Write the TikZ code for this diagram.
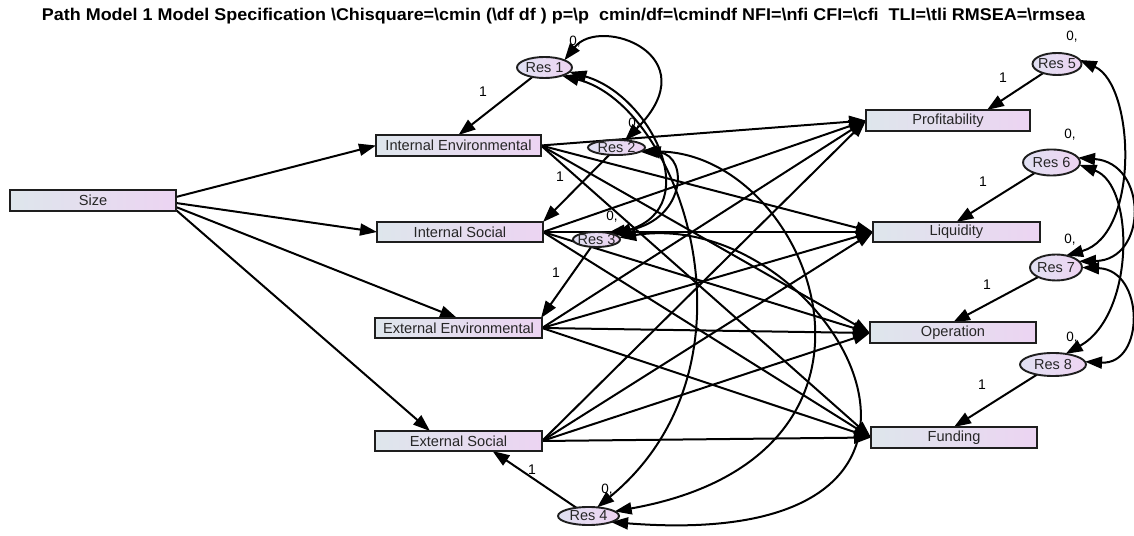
\documentclass[tikz,border=0pt]{standalone}
\usepackage{fontspec}
\setmainfont{Liberation Sans}
\usepackage{graphicx}
\usetikzlibrary{arrows.meta,backgrounds,shapes.geometric}
\definecolor{boxL}{RGB}{222,230,236}
\definecolor{boxR}{RGB}{236,212,242}
\definecolor{ellL}{RGB}{224,224,242}
\definecolor{ellR}{RGB}{238,212,242}
\definecolor{edgec}{RGB}{30,30,30}
\tikzset{
  var/.style={draw=edgec, line width=2pt, left color=boxL, right color=boxR,
    minimum height=20pt, inner sep=0pt, outer sep=0pt,
    font=\fontsize{14.6}{16}\selectfont, text=black!85},
  res/.style={ellipse, draw=edgec, line width=1.9pt, left color=ellL, right color=ellR,
    inner sep=0pt, outer sep=0pt},
  restext/.style={font=\fontsize{14.5}{16}\selectfont, text=black!85, inner sep=0pt},
  reg/.style={line width=2pt, -{Triangle[length=17pt,width=12pt]}},
  cov/.style={line width=2pt, {Triangle[length=17pt,width=12pt]}-{Triangle[length=17pt,width=12pt]}},
  onelab/.style={font=\fontsize{14}{16}\selectfont, inner sep=0pt},
  zerolab/.style={font=\fontsize{13.5}{15}\selectfont, inner sep=0pt}
}
\begin{document}
\begin{tikzpicture}[x=1pt,y=1pt]
\useasboundingbox (0,0) rectangle (1134,535);
% title
\node[anchor=base, inner sep=0pt] (title) at (563.5,514)
 {\resizebox{1043pt}{\height}{\fontsize{17}{20}\selectfont\bfseries Path Model 1 Model Specification \textbackslash Chisquare=\textbackslash cmin (\textbackslash df df ) p=\textbackslash p\ \ cmin/df=\textbackslash cmindf NFI=\textbackslash nfi CFI=\textbackslash cfi\ \ TLI=\textbackslash tli RMSEA=\textbackslash rmsea}};
% observed variables
\node[var, minimum width=166pt, minimum height=21pt] (Size) at (93,334.5) {Size};
\node[var, minimum width=165pt, minimum height=21pt] (IE) at (458.5,389.5) {Internal Environmental};
\node[var, minimum width=166pt] (IS) at (460,303) {Internal Social};
\node[var, minimum width=167pt] (EE) at (458.5,207) {External Environmental};
\node[var, minimum width=167pt] (ES) at (458.5,94) {External Social};
\node[var, minimum width=164pt, minimum height=21pt] (Prof) at (948,414.5) {Profitability};
\node[var, minimum width=167pt] (Liq) at (956.5,303) {Liquidity};
\node[var, minimum width=166pt, minimum height=21pt] (Op) at (953,202) {Operation};
\node[var, minimum width=166pt, minimum height=21pt] (Fund) at (954,97.5) {Funding};
% residuals
\node[res, minimum width=55pt, minimum height=21pt, label={[restext]center:Res 1}] (R1) at (544.5,467.5) {};
\node[res, minimum width=57pt, minimum height=15pt, label={[restext]center:Res 2}] (R2) at (616.5,387.5) {};
\node[res, minimum width=47pt, minimum height=15pt, label={[restext]center:Res 3}] (R3) at (596.5,295.5) {};
\node[res, minimum width=61pt, minimum height=18pt, label={[restext]center:Res 4}] (R4) at (588.5,19) {};
\node[res, minimum width=49pt, minimum height=22pt, label={[restext]center:Res 5}] (R5) at (1057,471) {};
\node[res, minimum width=57pt, minimum height=26pt, label={[restext]center:Res 6}] (R6) at (1051.5,372.5) {};
\node[res, minimum width=52pt, minimum height=26pt, label={[restext]center:Res 7}] (R7) at (1056,267.5) {};
\node[res, minimum width=66pt, minimum height=23pt, label={[restext]center:Res 8}] (R8) at (1053,170.5) {};
% labels
\node[zerolab] (z1) at (575,493) {0,};
\node[zerolab] (z2) at (634,411) {0,};
\node[zerolab] (z3) at (612,318) {0,};
\node[zerolab] (z4) at (607,45) {0,};
\node[zerolab] (z5) at (1072,498) {0,};
\node[zerolab] (z6) at (1070,400) {0,};
\node[zerolab] (z7) at (1070,295) {0,};
\node[zerolab] (z8) at (1072,197) {0,};
\node[onelab] (o1) at (483,443) {1};
\node[onelab] (o2) at (560,358) {1};
\node[onelab] (o3) at (556,262) {1};
\node[onelab] (o4) at (532,65) {1};
\node[onelab] (o5) at (1003,457) {1};
\node[onelab] (o6) at (983,353) {1};
\node[onelab] (o7) at (987,250) {1};
\node[onelab] (o8) at (982,150) {1};
\begin{pgfonlayer}{background}
% Size paths
\draw[reg] ([yshift=3.5pt]Size.east) -- (IE.west);
\draw[reg] ([yshift=-2.5pt]Size.east) -- (IS.west);
\draw[reg] ([yshift=-6.5pt]Size.east) -- ([xshift=-1.5pt]EE.north);
\draw[reg] ([yshift=-9.5pt]Size.east) -- ([xshift=-28.5pt]ES.north);
% predictors to outcomes
\foreach \p in {IE,IS,EE,ES}{
  \foreach \o in {Prof,Liq,Op,Fund}{
    \draw[reg] (\p.east) -- (\o.west);
  }
}
% residual paths
\draw[reg] (R1) -- (IE.north);
\draw[reg] (R2) -- (IS.north east);
\draw[reg] (R3) -- ([xshift=-1pt]EE.north east);
\draw[reg] (R4) -- ([xshift=34pt]ES.south);
\draw[reg] (R5) -- ([xshift=39pt]Prof.north);
\draw[reg] (R6) -- (Liq.north);
\draw[reg] (R7) -- (Op.north);
\draw[reg] (R8) -- (Fund.north);
% covariances among predictor residuals
\draw[cov] (R1.20) .. controls (600,520) and (710,480) .. (R2.40);
\draw[cov] (R1.-10) .. controls (650,440) and (705,330) .. (R3.15);
\draw[cov] (R1.-25) .. controls (680,430) and (770,170) .. (R4.45);
\draw[cov] (R2.-5) .. controls (690,378) and (685,312) .. (R3.30);
\draw[cov] (R2.-10) .. controls (810,385) and (930,80) .. (R4.10);
\draw[cov] (R3.5) .. controls (830,330) and (1030,-20) .. (R4.-15);
% covariances among outcome residuals
\draw[cov] (R5.10) .. controls (1135,450) and (1140,300) .. (R7.50);
\draw[cov] (R6.10) .. controls (1148,372) and (1148,275) .. (R7.15);
\draw[cov] (R6.-5) .. controls (1135,350) and (1135,220) .. (R8.40);
\draw[cov] (R7.0) .. controls (1145,265) and (1145,170) .. (R8.5);
\end{pgfonlayer}
\end{tikzpicture}
\end{document}
